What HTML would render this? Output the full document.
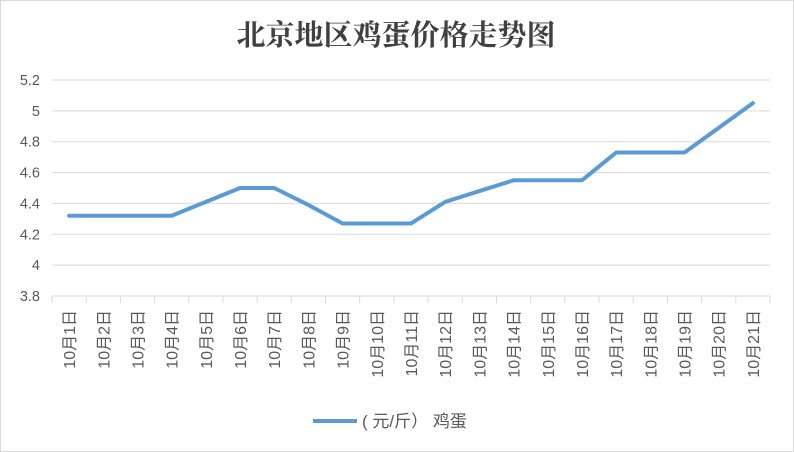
<!DOCTYPE html>
<html><head><meta charset="utf-8"><style>
body{margin:0;background:#fff}
svg{display:block;font-family:"Liberation Sans","Noto Sans CJK SC",sans-serif}
</style></head><body>
<svg width="794" height="452">
<rect x="0.5" y="0.5" width="793" height="451" fill="#fff" stroke="#d9d9d9"/>
<text x="396" y="45" text-anchor="middle" font-size="29" font-weight="bold" fill="#404040" font-family="'Liberation Serif','Noto Serif CJK SC',serif">北京地区鸡蛋价格走势图</text>
<g id="grid"></g><g id="yt"></g><g id="xt"></g><g id="series"></g>
<g>
<line x1="313" y1="421" x2="357" y2="421" stroke="#5b9bd5" stroke-width="4"/>
<text x="362" y="427" font-size="17" fill="#595959">( 元/斤） 鸡蛋</text>
</g>
</svg>
<script>
const categories=["10月1日","10月2日","10月3日","10月4日","10月5日","10月6日","10月7日","10月8日","10月9日","10月10日","10月11日","10月12日","10月13日","10月14日","10月15日","10月16日","10月17日","10月18日","10月19日","10月20日","10月21日"];
const prices=[4.32,4.32,4.32,4.32,4.41,4.5,4.5,4.39,4.27,4.27,4.27,4.41,4.48,4.55,4.55,4.55,4.73,4.73,4.73,4.89,5.05];
const yTicks=[3.8,4,4.2,4.4,4.6,4.8,5,5.2];
const yTickLabels=["3.8","4","4.2","4.4","4.6","4.8","5","5.2"];
const NS="http://www.w3.org/2000/svg";
const L=52,R=770,T=80,B=296,ymin=3.8,ymax=5.2;
const bw=(R-L)/categories.length;
const xs=i=>L+bw*(i+0.5);
const ys=v=>B-(v-ymin)/(ymax-ymin)*(B-T);
function mk(t,a,p){const e=document.createElementNS(NS,t);for(const k in a)e.setAttribute(k,a[k]);p.appendChild(e);return e;}
const grid=document.getElementById('grid'),yt=document.getElementById('yt'),xt=document.getElementById('xt'),ser=document.getElementById('series');
yTicks.forEach((v,i)=>{
 if(i>0){const g=mk('line',{x1:L,x2:R,y1:ys(v),y2:ys(v),stroke:'#d9d9d9'},grid);
 
 }
 const t=mk('text',{x:40,y:ys(v)+5,'text-anchor':'end','font-size':14.5,fill:'#595959'},yt);
 t.textContent=yTickLabels[i];
 
 
});
const ax=mk('line',{x1:L,x2:R,y1:B,y2:B,stroke:'#d9d9d9'},xt);


for(let i=0;i<=categories.length;i++){
 const tk=mk('line',{x1:L+bw*i,x2:L+bw*i,y1:B,y2:B+7,stroke:'#d9d9d9'},xt);
 
 
}
categories.forEach((c,i)=>{
 const x=xs(i)+6;
 const t=mk('text',{x:x,y:310,transform:`rotate(-90 ${x} 310)`,'text-anchor':'end','font-size':16,fill:'#595959'},xt);
 t.textContent=c;
 
 
});
const p=mk('polyline',{points:prices.map((v,i)=>xs(i)+','+ys(v)).join(' '),fill:'none',stroke:'#5b9bd5','stroke-width':4,'stroke-linejoin':'round','stroke-linecap':'round'},ser);


</script>
</body></html>
